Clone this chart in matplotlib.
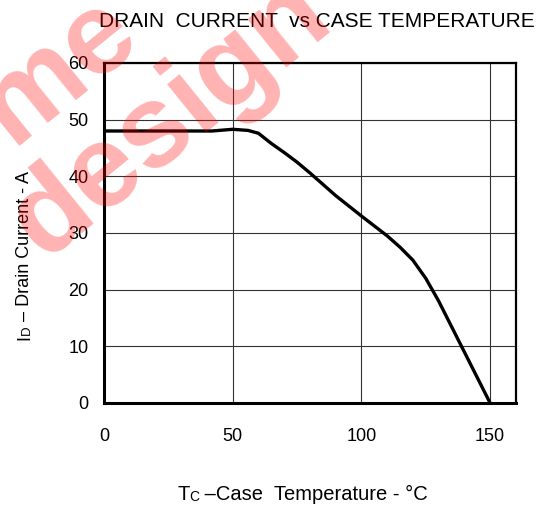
import matplotlib.pyplot as plt

plt.rcParams['font.family'] = ['Liberation Sans', 'DejaVu Sans']

# case temperature (C) and drain current (A)
temp = [0, 42, 50, 56, 60, 65, 70, 75, 80, 90, 100, 110, 115, 120, 125, 130, 140, 150]
current = [48, 48, 48.3, 48.1, 47.6, 45.8, 44.2, 42.5, 40.6, 36.6, 33.0, 29.5, 27.5, 25.2, 22.0, 18.0, 9.0, 0]

x_ticks = [0, 50, 100, 150]
y_ticks = [0, 10, 20, 30, 40, 50, 60]

fig = plt.figure(figsize=(5.43, 5.08), dpi=100)
ax = fig.add_axes([0.1915, 0.2067, 0.7585, 0.6693])

ax.plot(temp, current, color='black', linewidth=2.4, solid_joinstyle='round', zorder=3)

ax.set_xlim(0, 160)
ax.set_ylim(0, 60)
ax.set_xticks(x_ticks)
ax.set_yticks(y_ticks)
ax.tick_params(length=0, labelsize=13)
ax.tick_params(axis='x', pad=18)
ax.tick_params(axis='y', pad=11)
ax.grid(True, color='#333333', linewidth=0.8)
ax.set_axisbelow(True)
for side in ['left', 'bottom']:
    ax.spines[side].set_linewidth(2.2)
for side in ['top', 'right']:
    ax.spines[side].set_linewidth(1.6)

# title
fig.text(0.583, 0.958, "DRAIN  CURRENT  vs CASE TEMPERATURE", ha='center', va='center', fontsize=15)

# x label: T with small C
t1 = fig.text(0.326, 0.008, "T", fontsize=14.5, va='bottom', ha='left')
a2 = ax.annotate("C", xy=(1, 0), xycoords=t1, fontsize=10, va='bottom', ha='left',
                 annotation_clip=False)
ax.annotate(" \u2013Case  Temperature - \u00b0C", xy=(1, 0), xycoords=a2, fontsize=14.5,
            va='bottom', ha='left', annotation_clip=False)

# y label: I with small D
s1 = fig.text(0.061, 0.33, "I", fontsize=13, rotation=90, va='bottom', ha='right')
s2 = ax.annotate("D", xy=(1, 1), xycoords=s1, fontsize=9.5, rotation=90, va='bottom', ha='right',
                 annotation_clip=False)
ax.annotate(" \u2013 Drain Current - A", xy=(1, 1), xycoords=s2, fontsize=13, rotation=90,
            va='bottom', ha='right', annotation_clip=False)

# watermark
fig.text(0.022, 0.713, "me", fontsize=84, fontweight='bold', color='red', alpha=0.3,
         rotation=39, rotation_mode='anchor', ha='left', va='baseline', zorder=10)
fig.text(0.081, 0.488, "design", fontsize=84, fontweight='bold', color='red', alpha=0.3,
         rotation=39, rotation_mode='anchor', ha='left', va='baseline', zorder=10)

fig.savefig('out.png', dpi=100)
